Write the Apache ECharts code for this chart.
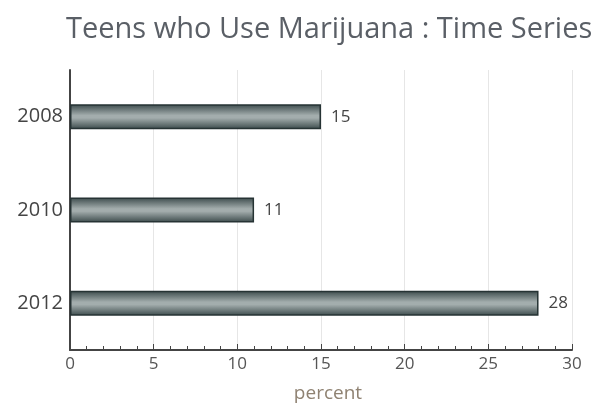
<!DOCTYPE html>
<html>
<head>
<meta charset="utf-8">
<script src="https://cdn.jsdelivr.net/npm/echarts@6/dist/echarts.min.js"></script>
<style>html,body{margin:0;padding:0;background:#fff}#main{width:597px;height:408px}</style>
</head>
<body>
<div id="main"></div>
<script>
// 数据
var years = ['2008', '2010', '2012'];
var percents = [15, 11, 28];

var myChart = echarts.init(document.getElementById('main'));
var option = {
    animation: false,
    title: {
        text: 'Teens who Use Marijuana : Time Series',
        left: 61,
        top: 10,
        textStyle: {
            fontFamily: 'Open Sans',
            fontSize: 29,
            fontWeight: 'normal',
            color: '#5a5f66'
        }
    },
    grid: {
        left: 70,
        right: 25,
        top: 70,
        bottom: 55
    },
    xAxis: {
        type: 'value',
        min: 0,
        max: 30,
        interval: 5,
        name: 'percent',
        nameLocation: 'middle',
        nameGap: 34,
        nameTextStyle: {
            fontFamily: 'Open Sans',
            fontSize: 19,
            color: '#8f8272',
            padding: [0, 0, 0, 14]
        },
        axisLine: {show: true, lineStyle: {color: '#444', width: 2}},
        axisTick: {show: true, inside: true, length: 6, lineStyle: {color: '#444'}},
        minorTick: {show: true, splitNumber: 5, length: 4, lineStyle: {color: '#444'}},
        axisLabel: {fontFamily: 'Open Sans', fontSize: 17, color: '#555', margin: 6},
        splitLine: {show: true, lineStyle: {color: '#e6e6e6', width: 1}}
    },
    yAxis: {
        type: 'category',
        data: years,
        inverse: true,
        axisLine: {show: true, lineStyle: {color: '#444', width: 2}},
        axisTick: {show: false},
        axisLabel: {fontFamily: 'Open Sans', fontSize: 20, color: '#444', margin: 7}
    },
    series: [
        {
            type: 'bar',
            data: percents,
            barWidth: 25,
            label: {
                show: true,
                position: 'right',
                distance: 10,
                fontFamily: 'Open Sans',
                fontSize: 17,
                color: '#444'
            },
            itemStyle: {
                borderColor: '#263334',
                borderWidth: 1.5,
                color: new echarts.graphic.LinearGradient(0, 0, 0, 1, [
                    {offset: 0, color: '#3b4a4b'},
                    {offset: 0.45, color: '#a3adad'},
                    {offset: 0.55, color: '#a3adad'},
                    {offset: 1, color: '#3b4a4b'}
                ])
            }
        }
    ]
};
myChart.setOption(option);
</script>
</body>
</html>
